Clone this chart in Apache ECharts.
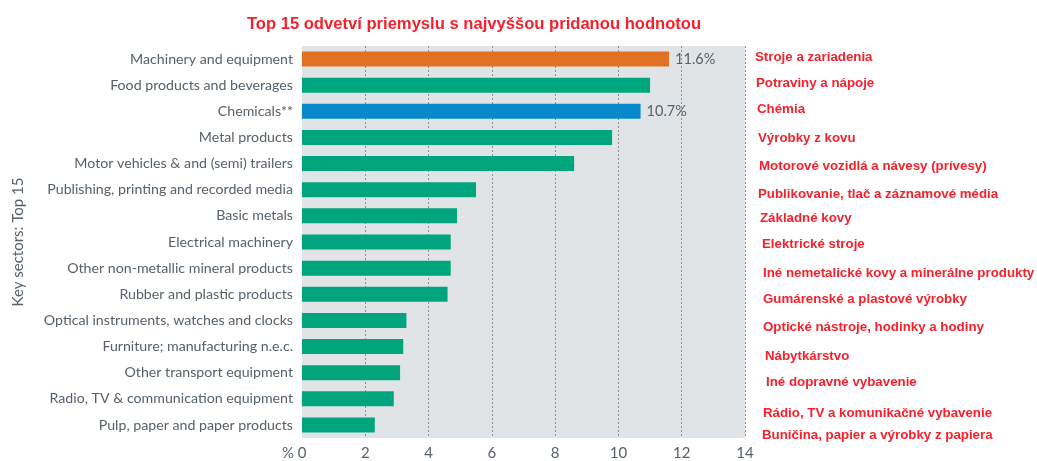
<!DOCTYPE html>
<html>
<head>
<meta charset="utf-8">
<script src="https://cdn.jsdelivr.net/npm/echarts@6/dist/echarts.min.js"></script>
<style>
  html, body { margin: 0; padding: 0; background: #fff; }
  #chart { width: 1037px; height: 461px; }
</style>
</head>
<body>
<div id="chart"></div>
<script>
  var sectors = [
    'Machinery and equipment',
    'Food products and beverages',
    'Chemicals**',
    'Metal products',
    'Motor vehicles & and (semi) trailers',
    'Publishing, printing and recorded media',
    'Basic metals',
    'Electrical machinery',
    'Other non-metallic mineral products',
    'Rubber and plastic products',
    'Optical instruments, watches and clocks',
    'Furniture; manufacturing n.e.c.',
    'Other transport equipment',
    'Radio, TV & communication equipment',
    'Pulp, paper and paper products'
  ];
  var shares = [11.6, 11.0, 10.7, 9.8, 8.6, 5.5, 4.9, 4.7, 4.7, 4.6, 3.3, 3.2, 3.1, 2.9, 2.3];
  var sectorsSk = [
    'Stroje a zariadenia',
    'Potraviny a nápoje',
    'Chémia',
    'Výrobky z kovu',
    'Motorové vozidlá a návesy (prívesy)',
    'Publikovanie, tlač a záznamové média',
    'Základné kovy',
    'Elektrické stroje',
    'Iné nemetalické kovy a minerálne produkty',
    'Gumárenské a plastové výrobky',
    'Optické nástroje, hodinky a hodiny',
    'Nábytkárstvo',
    'Iné dopravné vybavenie',
    'Rádio, TV a komunikačné vybavenie',
    'Buničina, papier a výrobky z papiera'
  ];
  var xTicks = [0, 2, 4, 6, 8, 10, 12, 14];

  // where the hand-placed Slovak notes sit (x, y of text middle-left)
  var skPos = [
    [755, 57], [756, 83], [757, 109], [758, 138], [759, 166],
    [758, 194], [760, 218], [762, 244], [763, 273], [763, 299],
    [763, 327], [765, 356], [766, 382], [763, 413], [762, 435]
  ];

  var gray = '#56616b';
  var green = '#00a57e';

  var barData = shares.map(function (v, i) {
    var item = { value: v, itemStyle: { color: green } };
    if (i === 0) {
      item.itemStyle.color = '#e07122';
      item.label = { show: true };
    }
    if (i === 2) {
      item.itemStyle.color = '#0688cb';
      item.label = { show: true };
    }
    return item;
  });

  var notes = sectorsSk.map(function (t, i) {
    return {
      type: 'text',
      x: skPos[i][0],
      y: skPos[i][1],
      style: {
        text: t,
        fill: '#f5222d',
        font: 'bold 13.3px "Liberation Sans", Arial, sans-serif',
        verticalAlign: 'middle'
      }
    };
  });

  var chart = echarts.init(document.getElementById('chart'));
  chart.setOption({
    animation: false,
    title: {
      text: 'Top 15 odvetví priemyslu s najvyššou pridanou hodnotou',
      left: 469,
      textAlign: 'center',
      top: 11,
      textStyle: {
        color: '#f5222d',
        fontSize: 16.6,
        fontWeight: 'bold',
        fontFamily: '"Liberation Sans", Arial, sans-serif'
      }
    },
    grid: {
      left: 302,
      right: 292,
      top: 46,
      bottom: 23,
      show: true,
      backgroundColor: '#e1e4e7',
      borderWidth: 0
    },
    xAxis: {
      type: 'value',
      min: 0,
      max: 14,
      interval: 2,
      axisLine: { show: false },
      axisTick: { show: false },
      axisLabel: {
        color: gray,
        fontSize: 15,
        fontFamily: 'Lato, sans-serif',
        margin: 8,
        formatter: function (v) { return xTicks.indexOf(v) >= 0 ? String(v) : ''; }
      },
      splitLine: {
        show: true,
        showMinLine: false,
        lineStyle: { color: '#8c9196', type: [2, 2], width: 1 }
      }
    },
    yAxis: {
      type: 'category',
      data: sectors,
      inverse: true,
      name: 'Key sectors: Top 15',
      nameLocation: 'middle',
      nameGap: 276,
      nameTextStyle: { color: gray, fontSize: 15, fontFamily: 'Lato, sans-serif' },
      axisLine: { show: false },
      axisTick: { show: false },
      axisLabel: { color: gray, fontSize: 14.2, fontFamily: 'Lato, sans-serif', margin: 9 }
    },
    series: [{
      type: 'bar',
      data: barData,
      barWidth: 15,
      label: {
        show: false,
        position: 'right',
        distance: 6,
        color: gray,
        fontSize: 14.5,
        fontFamily: 'Lato, sans-serif',
        formatter: '{c}%'
      }
    }],
    graphic: notes.concat([{
      type: 'text',
      x: 294,
      y: 453,
      style: {
        text: '%',
        fill: gray,
        font: '15px Lato, sans-serif',
        align: 'right',
        verticalAlign: 'middle'
      }
    }])
  });
</script>
</body>
</html>
